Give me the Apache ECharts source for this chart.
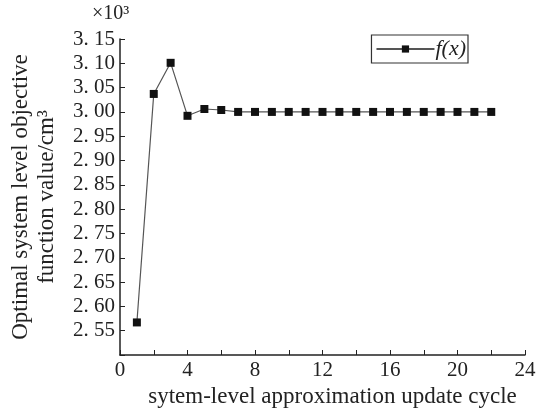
<!DOCTYPE html>
<html>
<head>
<meta charset="utf-8">
<script src="https://cdn.jsdelivr.net/npm/echarts@6/dist/echarts.min.js"></script>
<style>
  html, body { margin: 0; padding: 0; background: #fff; }
  #chart { width: 537px; height: 409px; }
</style>
</head>
<body>
<div id="chart"></div>
<script>
// update cycles and f(x) values (x10^3)
var cycles = [1, 2, 3, 4, 5, 6, 7, 8, 9, 10, 11, 12, 13, 14, 15, 16, 17, 18, 19, 20, 21, 22];
var fx = [2.567, 3.037, 3.101, 2.992, 3.006, 3.004, 3.000, 3.000, 3.000, 3.000, 3.000,
          3.000, 3.000, 3.000, 3.000, 3.000, 3.000, 3.000, 3.000, 3.000, 3.000, 3.000];

var serif = 'Liberation Serif';

var myChart = echarts.init(document.getElementById('chart'));

var option = {
  animation: false,
  backgroundColor: '#fff',
  textStyle: { fontFamily: serif, color: '#222' },
  grid: { left: 120, right: 12, top: 39, bottom: 54, outerBoundsMode: 'none' },
  graphic: [{
    type: 'text', left: 92, top: 4,
    style: { text: '×10³', font: '20px "Liberation Serif"', fill: '#222' }
  }],
  legend: {
    right: 69, top: 35,
    padding: [3, 2, 3, 4],
    borderColor: '#333', borderWidth: 1.2,
    itemWidth: 58, itemHeight: 9,
    itemGap: 2,
    textStyle: { fontFamily: serif, fontSize: 22, fontStyle: 'italic', color: '#222', padding: [0, 0, 0, -4] },
    data: [{ name: 'f(x)' }]
  },
  xAxis: {
    type: 'value', min: 0, max: 24, interval: 2,
    name: 'sytem-level approximation update cycle',
    nameLocation: 'middle', nameGap: 30,
    nameTextStyle: { fontFamily: serif, fontSize: 23, color: '#222', verticalAlign: 'top', padding: [0, 0, 0, 20] },
    axisLine: { lineStyle: { color: '#222', width: 1.5 } },
    axisTick: { inside: true, length: 5, lineStyle: { color: '#222' } },
    axisLabel: {
      fontFamily: serif, fontSize: 21, color: '#222', margin: 5,
      formatter: function (v) { return v % 4 === 0 ? String(v) : ''; }
    },
    splitLine: { show: false }
  },
  yAxis: {
    type: 'value', min: 2.50, max: 3.15, interval: 0.05,
    name: 'Optimal system level objective\nfunction value/cm³',
    nameLocation: 'middle', nameRotate: 90, nameGap: 60,
    nameTextStyle: { fontFamily: serif, fontSize: 23, color: '#222', lineHeight: 26 },
    axisLine: { show: true, lineStyle: { color: '#222', width: 1.5 } },
    axisTick: { inside: true, length: 5, lineStyle: { color: '#222' } },
    axisLabel: {
      fontFamily: serif, fontSize: 21, color: '#222', margin: 5,
      formatter: function (v) {
        if (Math.abs(v - 2.5) < 1e-6) return '';
        return v.toFixed(2).replace('.', '. ');
      }
    },
    splitLine: { show: false }
  },
  series: [{
    name: 'f(x)',
    type: 'line',
    data: cycles.map(function (c, i) { return [c, fx[i]]; }),
    symbol: 'rect', symbolSize: 8,
    itemStyle: { color: '#111' },
    lineStyle: { color: '#555', width: 1.2 }
  }]
};

myChart.setOption(option);
</script>
</body>
</html>
